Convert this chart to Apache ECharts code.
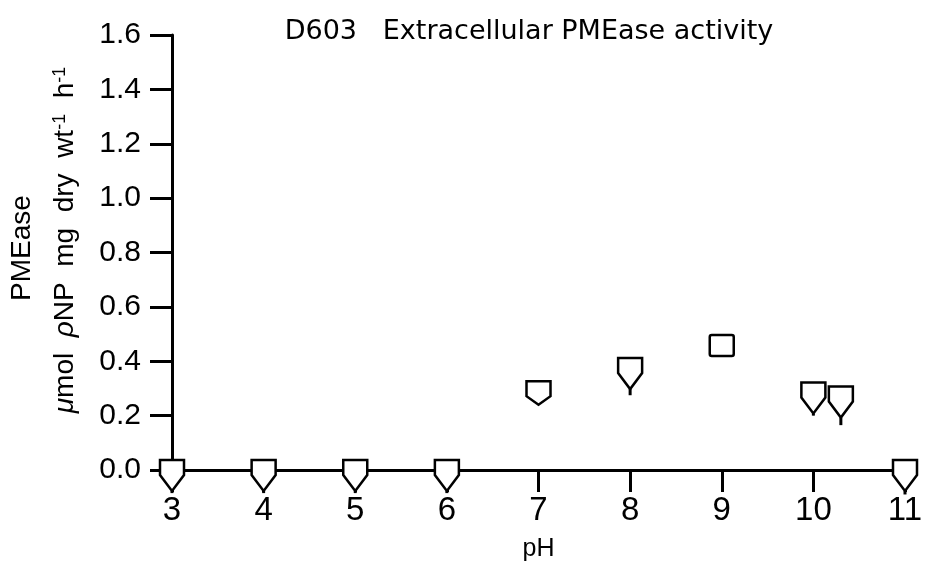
<!DOCTYPE html>
<html>
<head>
<meta charset="utf-8">
<script src="https://cdn.jsdelivr.net/npm/echarts@6/dist/echarts.min.js"></script>
<style>
html,body{margin:0;padding:0;background:#fff;}
#chart{width:926px;height:567px;}
</style>
</head>
<body>
<div id="chart"></div>
<script>
// pH values of each measurement
var phValues = [3, 4, 5, 6, 7, 8, 9, 10, 10.3, 11];
// mean PMEase activity
var activity = [0.0, 0.0, 0.0, 0.0, 0.29, 0.375, 0.46, 0.285, 0.27, 0.0];
// lower end of the error bar
var lowerBound = [-0.085, -0.085, -0.085, -0.085, 0.24, 0.275, 0.45, 0.20, 0.165, -0.09];
var xTicks = [3, 4, 5, 6, 7, 8, 9, 10, 11];
var yTicks = [0, 0.2, 0.4, 0.6, 0.8, 1.0, 1.2, 1.4, 1.6];

var chart = echarts.init(document.getElementById('chart'));
var data = phValues.map(function (p, i) { return [p, activity[i], lowerBound[i]]; });

var option = {
  backgroundColor: '#fff',
  animation: false,
  title: {
    text: 'D603   Extracellular PMEase activity',
    left: 524, top: 13, textAlign: 'center',
    textStyle: { fontFamily: 'DejaVu Sans', fontSize: 27, fontWeight: 'normal', color: '#000' }
  },
  grid: { left: 172, right: 21, top: 35, bottom: 95, containLabel: false },
  xAxis: {
    type: 'value', min: xTicks[0], max: xTicks[xTicks.length - 1], interval: 1,
    name: 'pH', nameLocation: 'middle', nameGap: 67,
    nameTextStyle: { fontFamily: 'Liberation Sans', fontSize: 25, color: '#000', verticalAlign: 'top' },
    axisLine: { onZero: false, lineStyle: { color: '#000', width: 3 } },
    axisTick: { show: true, length: 22, lineStyle: { color: '#000', width: 3 } },
    axisLabel: { margin: 24, fontFamily: 'Liberation Sans', fontSize: 33, color: '#000' },
    splitLine: { show: false }
  },
  yAxis: {
    type: 'value', min: yTicks[0], max: yTicks[yTicks.length - 1], interval: 0.2,
    axisLine: { onZero: false, lineStyle: { color: '#000', width: 3 } },
    axisTick: { show: true, length: 22, lineStyle: { color: '#000', width: 3 } },
    axisLabel: { margin: 31, fontFamily: 'Liberation Sans', fontSize: 30, color: '#000',
      formatter: function (v) { return v.toFixed(1); } },
    splitLine: { show: false }
  },
  graphic: [
    {
      type: 'text', x: 22, y: 248, rotation: Math.PI / 2,
      style: { text: 'PMEase', fontFamily: 'Liberation Sans', fontSize: 28, fill: '#000',
        align: 'center', verticalAlign: 'middle' }
    },
    {
      type: 'text', x: 65, y: 240, rotation: Math.PI / 2,
      style: {
        text: '{i|μ}{n|mol  }{i|ρ}{n|NP  mg  dry  wt}{s|-1}{n|  h}{s|-1}',
        align: 'center', verticalAlign: 'middle', fill: '#000',
        rich: {
          n: { fontFamily: 'Liberation Sans', fontSize: 28, fill: '#000', verticalAlign: 'bottom' },
          i: { fontFamily: 'Liberation Sans', fontStyle: 'italic', fontSize: 28, fill: '#000', verticalAlign: 'bottom' },
          s: { fontFamily: 'Liberation Sans', fontSize: 18, fill: '#000', verticalAlign: 'top' }
        }
      }
    }
  ],
  series: [{
    type: 'custom',
    data: data,
    encode: { x: 0, y: 1 },
    renderItem: function (params, api) {
      var c = api.coord([api.value(0), api.value(1)]);
      var tip = api.coord([api.value(0), api.value(2)])[1];
      var cx = c[0], cy = c[1];
      var hw = 12, top = cy - 10;
      var style = { fill: '#fff', stroke: '#000', lineWidth: 2.5 };
      if (tip <= cy + 10) {
        return { type: 'rect', shape: { x: cx - hw, y: top, width: hw * 2, height: 21, r: 2 }, style: style };
      }
      var shoulder = cy + 5;
      var neck = Math.min(tip, shoulder + 16);
      var children = [{
        type: 'polygon',
        shape: { points: [[cx - hw, top], [cx + hw, top], [cx + hw, shoulder], [cx, neck], [cx - hw, shoulder]] },
        style: style
      }];
      if (tip > neck) {
        children.push({ type: 'line', shape: { x1: cx, y1: neck, x2: cx, y2: tip }, style: { stroke: '#000', lineWidth: 3 } });
      }
      return { type: 'group', children: children };
    },
    z: 5
  }]
};
chart.setOption(option);
</script>
</body>
</html>
